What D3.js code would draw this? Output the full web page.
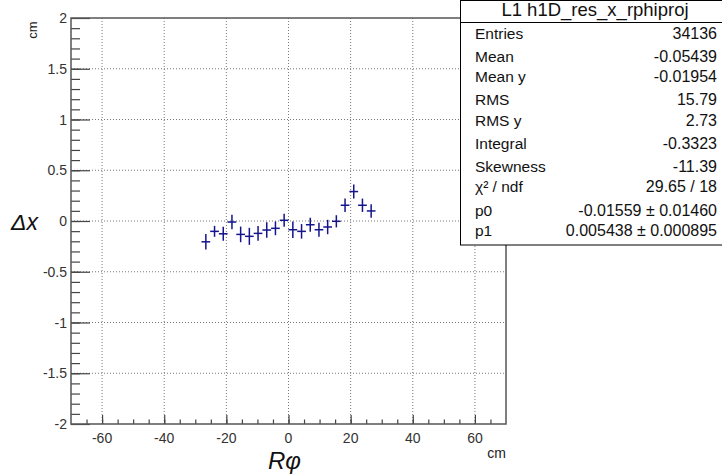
<!DOCTYPE html>
<html>
<head>
<meta charset="utf-8">
<script src="https://cdn.jsdelivr.net/npm/d3@7"></script>
<style>
  body { margin: 0; background: #fff; }
  svg { font-family: "Liberation Sans", Arial, sans-serif; }
</style>
</head>
<body>
<div id="chart"></div>
<script>
'use strict';

// bin centres (cm) of the filled bins, 50 bins over -70..70
var binCenters = [-26.6, -23.8, -21.0, -18.2, -15.4, -12.6, -9.8, -7.0, -4.2, -1.4,
                  1.4, 4.2, 7.0, 9.8, 12.6, 15.4, 18.2, 21.0, 23.8, 26.6];
var dxValues   = [-0.205, -0.102, -0.126, -0.010, -0.132, -0.151, -0.122, -0.089, -0.072, 0.007,
                  -0.086, -0.102, -0.037, -0.086, -0.059, -0.003, 0.155, 0.290, 0.155, 0.099];
var dxErrors   = [0.076, 0.054, 0.069, 0.071, 0.077, 0.084, 0.072, 0.076, 0.068, 0.064,
                  0.082, 0.072, 0.068, 0.068, 0.071, 0.060, 0.066, 0.069, 0.066, 0.066];
var binHalfWidth = 1.4;

var xTicks = [-60, -40, -20, 0, 20, 40, 60];
var yTicks = [-2, -1.5, -1, -0.5, 0, 0.5, 1, 1.5, 2];

var statsTitle  = 'L1 h1D_res_x_rphiproj';
var statsLabels = ['Entries', 'Mean', 'Mean y', 'RMS', 'RMS y', 'Integral', 'Skewness', 'χ² / ndf', 'p0', 'p1'];
var statsValues = ['34136', '-0.05439', '-0.01954', '15.79', '2.73', '-0.3323', '-11.39', '29.65 / 18',
                   '-0.01559 ± 0.01460', '0.005438 ± 0.000895'];

//configuration
var config = {};
config.width  = 722;
config.height = 475;
config.left   = 71;
config.right  = 506;
config.top    = 18;
config.bottom = 424;

var svg = d3.select('#chart').append('svg')
    .attr('width', config.width)
    .attr('height', config.height);

var x = d3.scaleLinear().domain([-70, 70]).range([config.left, config.right]);
var y = d3.scaleLinear().domain([-2, 2]).range([config.bottom, config.top]);

//grid
var grid = svg.append('g').attr('class', 'grid');
grid.selectAll('line.gx')
    .data(xTicks)
    .enter().append('line')
    .attr('class', 'gx')
    .attr('x1', function(d){ return x(d); })
    .attr('x2', function(d){ return x(d); })
    .attr('y1', config.top)
    .attr('y2', config.bottom)
    .attr('stroke', '#777')
    .attr('stroke-dasharray', '1,2');
grid.selectAll('line.gy')
    .data(yTicks.filter(function(d){ return d > -2 && d < 2; }))
    .enter().append('line')
    .attr('class', 'gy')
    .attr('x1', config.left)
    .attr('x2', config.right)
    .attr('y1', function(d){ return y(d); })
    .attr('y2', function(d){ return y(d); })
    .attr('stroke', '#777')
    .attr('stroke-dasharray', '1,2');

//axes (ticks drawn inside the frame)
var xAxis = d3.axisTop(x).tickValues(d3.range(-65, 70, 5)).tickSize(4.5).tickFormat('');
svg.append('g').attr('transform', 'translate(0,' + config.bottom + ')').call(xAxis);
var xAxisMajor = d3.axisTop(x).tickValues(xTicks).tickSize(9).tickFormat('');
svg.append('g').attr('transform', 'translate(0,' + config.bottom + ')').call(xAxisMajor);

var yMinor = d3.range(-19, 20).map(function(d){ return d / 10; });
var yAxis = d3.axisRight(y).tickValues(yMinor).tickSize(9).tickFormat('');
svg.append('g').attr('transform', 'translate(' + config.left + ',0)').call(yAxis);
var yAxisMajor = d3.axisRight(y).tickValues(yTicks).tickSize(19).tickFormat('');
svg.append('g').attr('transform', 'translate(' + config.left + ',0)').call(yAxisMajor);

svg.selectAll('.domain').remove();
svg.selectAll('.tick line').attr('stroke', '#444').attr('stroke-width', 1.2);

//tick labels
svg.selectAll('text.xl')
    .data(xTicks)
    .enter().append('text')
    .attr('class', 'xl')
    .attr('x', function(d){ return x(d); })
    .attr('y', config.bottom + 19)
    .attr('text-anchor', 'middle')
    .attr('fill', '#333')
    .style('font-size', '14px')
    .text(function(d){ return d; });

svg.selectAll('text.yl')
    .data(yTicks)
    .enter().append('text')
    .attr('class', 'yl')
    .attr('x', config.left - 4)
    .attr('y', function(d){ return y(d) + 5; })
    .attr('text-anchor', 'end')
    .attr('fill', '#333')
    .style('font-size', '14px')
    .text(function(d){ return d; });

//frame
svg.append('rect')
    .attr('x', config.left)
    .attr('y', config.top)
    .attr('width', config.right - config.left)
    .attr('height', config.bottom - config.top)
    .attr('fill', 'none')
    .attr('stroke', '#555')
    .attr('stroke-width', 1.5);

//axis titles
svg.append('text')
    .attr('transform', 'translate(37,30) rotate(-90)')
    .attr('text-anchor', 'middle')
    .attr('fill', '#222')
    .style('font-size', '13px')
    .text('cm');
svg.append('text')
    .attr('x', 11)
    .attr('y', 230)
    .attr('fill', '#111')
    .style('font-size', '23px')
    .style('font-style', 'italic')
    .text('Δx');
svg.append('text')
    .attr('x', 268)
    .attr('y', 469)
    .attr('fill', '#111')
    .style('font-size', '24px')
    .style('font-style', 'italic')
    .text('Rφ');
svg.append('text')
    .attr('x', config.right)
    .attr('y', 458)
    .attr('text-anchor', 'end')
    .attr('fill', '#222')
    .style('font-size', '14px')
    .text('cm');

//data points with error bars
var points = svg.append('g').attr('class', 'points')
    .attr('stroke', '#14148c')
    .attr('stroke-width', 1.5);
var pts = binCenters.map(function(c, i){ return {x: c, y: dxValues[i], e: dxErrors[i]}; });
points.selectAll('line.h')
    .data(pts)
    .enter().append('line')
    .attr('class', 'h')
    .attr('x1', function(d){ return x(d.x - binHalfWidth); })
    .attr('x2', function(d){ return x(d.x + binHalfWidth); })
    .attr('y1', function(d){ return y(d.y); })
    .attr('y2', function(d){ return y(d.y); });
points.selectAll('line.v')
    .data(pts)
    .enter().append('line')
    .attr('class', 'v')
    .attr('x1', function(d){ return x(d.x); })
    .attr('x2', function(d){ return x(d.x); })
    .attr('y1', function(d){ return y(d.y - d.e); })
    .attr('y2', function(d){ return y(d.y + d.e); });

//stats box
var stats = svg.append('g').attr('class', 'stats');
stats.append('rect')
    .attr('x', 460.5)
    .attr('y', 0.5)
    .attr('width', 270)
    .attr('height', 244.5)
    .attr('fill', '#fff')
    .attr('stroke', '#000')
    .attr('stroke-width', 1);
stats.append('line')
    .attr('x1', 460).attr('x2', 722)
    .attr('y1', 22.5).attr('y2', 22.5)
    .attr('stroke', '#000');
stats.append('text')
    .attr('x', 595)
    .attr('y', 16)
    .attr('text-anchor', 'middle')
    .attr('fill', '#111')
    .style('font-size', '18.5px')
    .text(statsTitle);

var rowY = [39, 62, 81.5, 105, 125.5, 148.5, 171.5, 192, 216, 236];
stats.selectAll('text.lab')
    .data(statsLabels)
    .enter().append('text')
    .attr('class', 'lab')
    .attr('x', 475)
    .attr('y', function(d, i){ return rowY[i]; })
    .attr('fill', '#111')
    .style('font-size', '15.5px')
    .text(function(d){ return d; });
stats.selectAll('text.val')
    .data(statsValues)
    .enter().append('text')
    .attr('class', 'val')
    .attr('x', 717)
    .attr('y', function(d, i){ return rowY[i]; })
    .attr('text-anchor', 'end')
    .attr('fill', '#111')
    .style('font-size', '16px')
    .text(function(d){ return d; });
</script>
</body>
</html>
